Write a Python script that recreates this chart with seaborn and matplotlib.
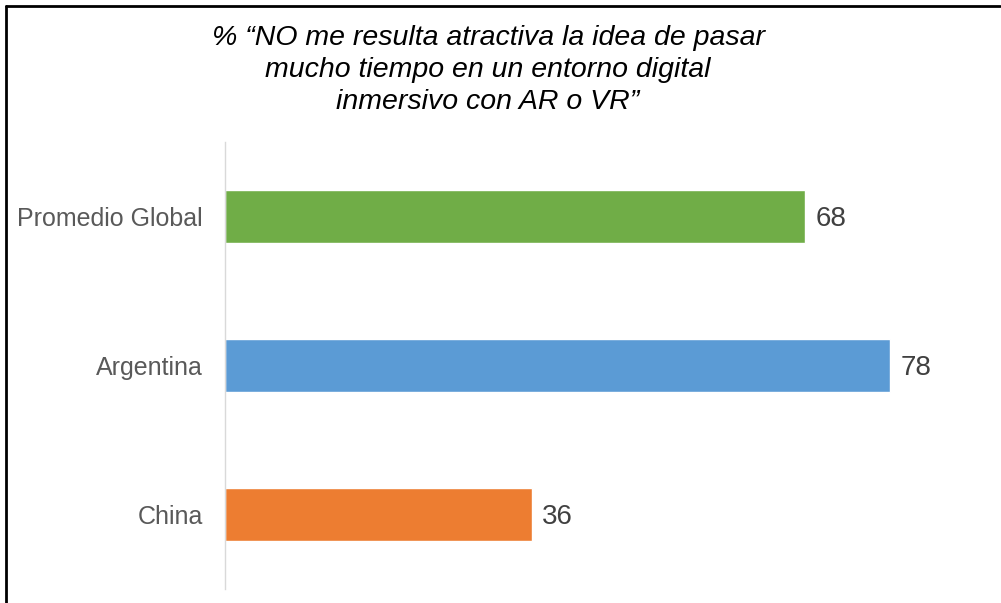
import pandas as pd
import matplotlib.pyplot as plt
import seaborn as sns
from matplotlib.lines import Line2D

# Data
paises = ["Promedio Global", "Argentina", "China"]
valores = [68, 78, 36]
colores = ["#70AD47", "#5B9BD5", "#ED7D31"]

titulo = "% \u201cNO me resulta atractiva la idea de pasar\nmucho tiempo en un entorno digital\ninmersivo con AR o VR\u201d"

df = pd.DataFrame({"Pais": paises, "Valor": valores})

sns.set_theme(style="white")
plt.rcParams["font.family"] = ["Liberation Sans", "DejaVu Sans"]

fig = plt.figure(figsize=(10.01, 6.03), dpi=100)
ax = fig.add_axes([225 / 1001, 1 - 589 / 603, 1 - 225 / 1001, (589 - 142) / 603])

sns.barplot(data=df, x="Valor", y="Pais", hue="Pais", palette=colores,
            width=0.36, legend=False, ax=ax, saturation=1)

ax.set_xlim(0, 776 / 8.53)
ax.set_ylim(2.5, -0.5)
ax.set_xlabel("")
ax.set_ylabel("")
ax.set_xticks([])
for s in ["top", "right", "bottom"]:
    ax.spines[s].set_visible(False)
ax.spines["left"].set_color("#d9d9d9")
ax.spines["left"].set_linewidth(1)
ax.tick_params(axis="y", length=0, pad=16, labelsize=18, labelcolor="#595959")

for i, v in enumerate(valores):
    ax.text(v + 1.2, i + 0.02, str(v), va="center", ha="left", fontsize=20, color="#404040")

fig.text(488 / 1001, 1 - 70 / 603, titulo, ha="center", va="center",
         fontsize=20.5, style="italic", color="black", linespacing=1.3)

# marco (solo arriba e izquierda quedan visibles)
y_top = 1 - 5.5 / 603
x_left = 5.5 / 1001
fig.add_artist(Line2D([x_left, 1000 / 1001], [y_top, y_top], transform=fig.transFigure,
                      color="black", linewidth=2))
fig.add_artist(Line2D([x_left, x_left], [y_top, 0], transform=fig.transFigure,
                      color="black", linewidth=2))

fig.savefig("out.png", dpi=100)
